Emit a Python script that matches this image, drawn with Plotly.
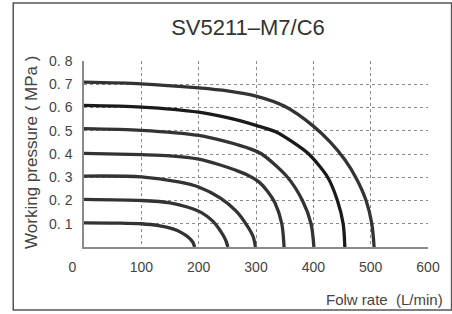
import plotly.graph_objects as go

# Flow rate (L/min) / pressure (MPa) points
c01_x = [0, 60, 100, 130, 155, 170, 183, 190, 193]
c01_y = [0.104, 0.103, 0.100, 0.092, 0.078, 0.062, 0.040, 0.020, 0.0]
c02_x = [0, 100, 150, 180, 205, 225, 239, 247, 251]
c02_y = [0.205, 0.200, 0.190, 0.172, 0.148, 0.110, 0.065, 0.030, 0.0]
c03_x = [0, 100, 165, 200, 238, 265, 285, 295, 299]
c03_y = [0.305, 0.302, 0.280, 0.258, 0.210, 0.155, 0.090, 0.045, 0.0]
c04_x = [0, 100, 150, 200, 235, 265, 285, 305, 320, 333, 345, 349]
c04_y = [0.403, 0.397, 0.392, 0.378, 0.355, 0.330, 0.310, 0.280, 0.240, 0.190, 0.100, 0.0]
c05_x = [0, 100, 200, 250, 290, 310, 355, 381, 396, 401]
c05_y = [0.509, 0.502, 0.480, 0.452, 0.422, 0.400, 0.300, 0.200, 0.100, 0.0]
c06_x = [0, 100, 200, 250, 300, 335, 365, 392, 425, 442, 452, 455]
c06_y = [0.609, 0.602, 0.580, 0.556, 0.523, 0.495, 0.450, 0.400, 0.300, 0.200, 0.100, 0.0]
c07_x = [0, 100, 200, 250, 300, 350, 400, 430, 455, 475, 492, 502, 506]
c07_y = [0.709, 0.702, 0.684, 0.671, 0.649, 0.605, 0.520, 0.450, 0.375, 0.295, 0.200, 0.100, 0.0]

x_ticks = [0, 100, 200, 300, 400, 500, 600]
x_tick_text = ["0\u00a0\u00a0\u00a0\u00a0\u00a0\u00a0", "100", "200", "300", "400", "500", "600"]
y_ticks = [0.1, 0.2, 0.3, 0.4, 0.5, 0.6, 0.7, 0.8]
y_tick_text = ["0. 1", "0. 2", "0. 3", "0. 4", "0. 5", "0. 6", "0. 7", "0. 8"]

curves = [(c01_x, c01_y), (c02_x, c02_y), (c03_x, c03_y), (c04_x, c04_y),
          (c05_x, c05_y), (c06_x, c06_y), (c07_x, c07_y)]

fig = go.Figure()
for i, (xs, ys) in enumerate(curves):
    fig.add_trace(go.Scatter(
        x=xs, y=ys, mode="lines",
        line=dict(color="#1a1a1a" if i == 5 else "#333333", width=3.3,
                  shape="spline", smoothing=0.8),
        hoverinfo="skip", showlegend=False))

FONT = "Liberation Sans, Arial, sans-serif"
L, R, T, B = 84, 18, 61, 67
W, H = 452, 314
pw, ph = W - L - R, H - T - B

fig.update_layout(
    width=W, height=H,
    margin=dict(l=L, r=R, t=T, b=B),
    paper_bgcolor="white", plot_bgcolor="white",
    font=dict(family=FONT, color="#444444"),
    title=dict(text="SV5211\u2013M7/C6", x=248 / W, xref="container",
               xanchor="center", y=1 - 27 / H, yanchor="middle",
               font=dict(family=FONT, size=22, color="#333333")),
    xaxis=dict(range=[0, 600], tickvals=x_ticks, ticktext=x_tick_text,
               showgrid=True, gridcolor="#8a8a8a", gridwidth=1, griddash="3px,3px",
               showline=True, linecolor="#8a8a8a", linewidth=1.5,
               zeroline=False, ticks="", ticklabelstandoff=6,
               tickfont=dict(family=FONT, size=14, color="#444444")),
    yaxis=dict(range=[0, 0.8], tickvals=y_ticks, ticktext=y_tick_text,
               showgrid=True, gridcolor="#8a8a8a", gridwidth=1, griddash="3px,3px",
               showline=True, linecolor="#8a8a8a", linewidth=1.5,
               zeroline=False, ticks="", ticklabelstandoff=7,
               tickfont=dict(family=FONT, size=14, color="#444444")),
    shapes=[dict(type="rect", xref="paper", yref="paper",
                 x0=(12 - L) / pw, x1=(458 - L) / pw,
                 y0=(H - B - 310) / ph, y1=(H - B - 3) / ph,
                 line=dict(color="#555555", width=1.5), layer="below")],
    annotations=[
        dict(text="Working pressure ( MPa )", textangle=-90, showarrow=False,
             xref="paper", yref="paper", x=(30 - L) / pw, y=(H - B - 152) / ph,
             xanchor="center", yanchor="middle",
             font=dict(family=FONT, size=17, color="#444444")),
        dict(text="Folw rate\u00a0\u00a0(L/min)", showarrow=False,
             xref="paper", yref="paper", x=(451 - L) / pw, y=(H - B - 299) / ph,
             xanchor="right", yanchor="middle",
             font=dict(family=FONT, size=15, color="#444444")),
    ],
)

fig.write_html("out.html", config={"displayModeBar": False},
               post_script="document.body.style.margin='0';document.body.style.overflow='hidden';")
